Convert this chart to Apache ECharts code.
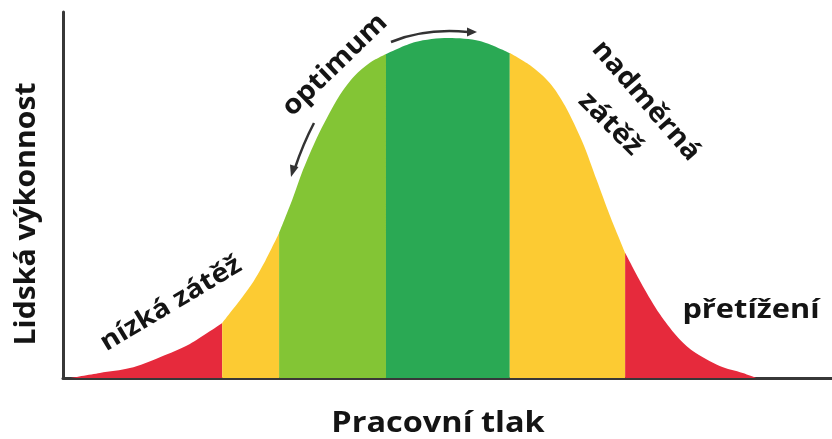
<!DOCTYPE html>
<html>
<head>
<meta charset="utf-8">
<script src="https://cdn.jsdelivr.net/npm/echarts@6/dist/echarts.min.js"></script>
<style>
  html, body { margin: 0; padding: 0; background: #fff; }
  #chart { width: 832px; height: 439px; }
</style>
</head>
<body>
<div id="chart"></div>
<script>
document.addEventListener('DOMContentLoaded', function() {
    // Data: work pressure (x) and human performance (y)
    const pressure = [0.9, 4.8, 8.7, 12.6, 16.5, 20.7, 24.3, 26.3, 28.1, 29.8, 31.2, 33.0, 34.3, 36.0, 37.9,
        39.9, 42.0, 45.8, 50.1, 54.2, 58.1, 60.7, 63.3, 65.3, 67.6, 69.4, 71.1, 73.1, 75.4, 77.6, 79.8,
        81.9, 85.4, 88.4, 90.2];
    const performance = [0, 1.4, 2.7, 5.7, 9.3, 15.0, 24.9, 32.0, 39.6, 48.6, 56.8, 65.6, 71.0, 77.3, 82.5,
        86.1, 88.5, 91.8, 92.9, 92.1, 88.8, 85.5, 80.6, 74.3, 64.2, 54.1, 44.5, 34.2, 25.1, 17.5, 11.5,
        7.4, 3.3, 1.4, 0];

    // Zone boundaries along the x axis
    const zoneBounds = [0.9, 20.7, 28.1, 42.0, 58.1, 73.1, 90.2];
    const zoneNames = ['nízká zátěž', 'nízká zátěž 2', 'optimum 1', 'optimum 2', 'nadměrná zátěž', 'přetížení'];
    const zoneColors = ['#e62a3c', '#fccb33', '#83c535', '#2aa954', '#fccb33', '#e62a3c'];

    const chart = echarts.init(document.getElementById('chart'));

    // jedna serie pro kazdou barevnou zonu
    const series = zoneNames.map((name, i) => {
        const data = [];
        pressure.forEach((x, k) => {
            if (x >= zoneBounds[i] - 1e-6 && x <= zoneBounds[i + 1] + 1e-6) {
                data.push([x, performance[k]]);
            }
        });
        return {
            name: name,
            type: 'line',
            data: data,
            smooth: 0.3,
            symbol: 'none',
            lineStyle: { width: 0 },
            areaStyle: { color: zoneColors[i], opacity: 1 },
            silent: true,
            z: 2
        };
    });

    const dark = '#141414';
    const font = (size) => 'bold ' + size + 'px "Open Sans", sans-serif';
    const deg = Math.PI / 180;
    const label = (text, x, y, angle, size, sx) => ({
        type: 'text', x: x, y: y, rotation: angle * deg, scaleX: sx,
        style: { text: text, font: font(size), fill: dark, textAlign: 'center', textVerticalAlign: 'middle' }
    });

    const option = {
        animation: false,
        backgroundColor: '#fff',
        grid: { left: 63, right: 0, top: 12, bottom: 61 },
        xAxis: {
            type: 'value', min: 0, max: 100,
            axisLine: { show: true, onZero: false, lineStyle: { color: '#383838', width: 3 } },
            axisTick: { show: false }, axisLabel: { show: false }, splitLine: { show: false }
        },
        yAxis: {
            type: 'value', min: 0, max: 100,
            axisLine: { show: true, onZero: false, lineStyle: { color: '#383838', width: 3 } },
            axisTick: { show: false }, axisLabel: { show: false }, splitLine: { show: false }
        },
        series: series,
        graphic: [
            label('Lidská výkonnost', 27, 214, 90, 29, 1.04),
            label('Pracovní tlak', 438, 424, 0, 28, 1.16),
            label('nízká zátěž', 171, 304, 31, 26, 1.11),
            label('optimum', 335, 65, 44, 27, 1.08),
            label('nadměrná', 646, 101, -49, 27, 1.07),
            label('zátěž', 610, 124, -45, 27, 1.1),
            label('přetížení', 751, 310, 0, 27, 1.14),
            // sipky u "optimum"
            { type: 'bezierCurve', shape: { x1: 314, y1: 123, x2: 295, y2: 168, cpx1: 303, cpy1: 144 },
              style: { stroke: '#333', lineWidth: 2.5, fill: null } },
            { type: 'polygon', shape: { points: [[291, 177], [298.5, 167], [290, 164.5]] },
              style: { fill: '#333' } },
            { type: 'bezierCurve', shape: { x1: 391, y1: 42, x2: 468, y2: 32, cpx1: 425, cpy1: 28 },
              style: { stroke: '#333', lineWidth: 2.5, fill: null } },
            { type: 'polygon', shape: { points: [[477, 32], [467, 27.5], [467, 36.5]] },
              style: { fill: '#333' } }
        ]
    };

    chart.setOption(option);
    window.addEventListener('resize', () => chart.resize());
});
</script>
</body>
</html>
